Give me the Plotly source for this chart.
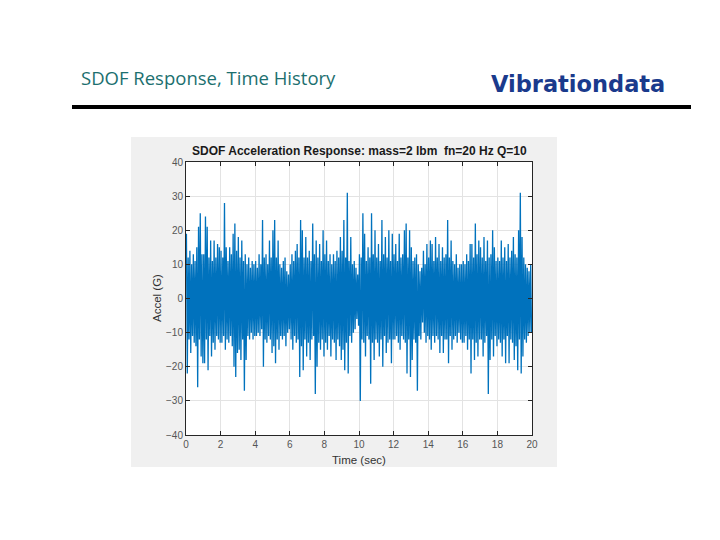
import numpy as np
import plotly.graph_objects as go

# ---------------- data ----------------
# per 0.1 s bin: positive peak and negative peak of the acceleration (G)
upper_peaks = [
    19, 12, 14, 10, 13, 11, 15, 21, 25, 13,
    13, 24, 21, 12, 17, 11, 17, 12, 16, 15,
    14, 12, 28, 15, 11, 15, 13, 19, 22, 14,
    18, 12, 17, 11, 13, 10, 12, 9, 11, 10,
    11, 9, 13, 10, 23, 12, 13, 10, 17, 12,
    20, 23, 12, 17, 10, 9, 11, 12, 8, 7,
    10, 13, 11, 14, 16, 12, 23, 20, 12, 18,
    12, 14, 11, 22, 13, 17, 12, 16, 11, 20,
    13, 17, 11, 13, 10, 13, 11, 14, 12, 18,
    14, 23, 12, 31, 11, 18, 10, 11, 9, 7,
    13, 12, 25, 19, 11, 15, 12, 25, 13, 20,
    12, 16, 11, 23, 13, 18, 12, 20, 11, 19,
    13, 16, 11, 19, 12, 13, 20, 22, 12, 20,
    15, 11, 12, 13, 10, 8, 9, 14, 10, 16,
    12, 17, 16, 11, 18, 12, 16, 11, 15, 12,
    13, 23, 12, 17, 11, 10, 13, 9, 10, 10,
    11, 10, 13, 11, 16, 16, 12, 22, 13, 17,
    15, 12, 18, 11, 17, 12, 13, 20, 15, 11,
    12, 11, 17, 12, 15, 11, 16, 12, 14, 18,
    13, 12, 20, 31, 18, 12, 10, 9, 8, 10,
]
lower_peaks = [
    -22, -12, -16, -11, -13, -14, -26, -12, -17, -19,
    -19, -12, -21, -11, -17, -13, -15, -11, -12, -13,
    -13, -11, -15, -12, -13, -11, -14, -20, -23, -16,
    -15, -18, -12, -27, -18, -11, -12, -10, -12, -11,
    -11, -10, -11, -9, -20, -12, -13, -11, -12, -16,
    -14, -19, -12, -15, -11, -12, -11, -14, -10, -9,
    -12, -15, -11, -13, -12, -23, -14, -21, -12, -17,
    -13, -18, -12, -11, -28, -20, -13, -15, -12, -17,
    -13, -15, -11, -17, -12, -13, -18, -12, -14, -18,
    -15, -21, -13, -22, -11, -13, -10, -9, -6, -8,
    -30, -12, -13, -17, -11, -12, -25, -13, -18, -12,
    -13, -17, -12, -20, -11, -16, -13, -12, -19, -12,
    -12, -11, -13, -15, -11, -12, -13, -22, -12, -23,
    -18, -12, -13, -27, -11, -12, -7, -10, -13, -11,
    -12, -15, -11, -13, -11, -12, -16, -11, -16, -12,
    -12, -19, -11, -15, -12, -11, -13, -10, -12, -13,
    -13, -11, -15, -12, -22, -12, -18, -13, -17, -12,
    -12, -17, -13, -11, -28, -18, -12, -17, -11, -14,
    -12, -13, -17, -12, -19, -11, -19, -12, -13, -18,
    -14, -21, -12, -22, -17, -12, -13, -11, -10, -10,
]
bin_width = 0.1  # seconds per bin

x_ticks = [0, 2, 4, 6, 8, 10, 12, 14, 16, 18, 20]
y_ticks = [-40, -30, -20, -10, 0, 10, 20, 30, 40]

# interleave positive / negative peaks into one time history
n = len(upper_peaks)
t_up = np.arange(n) * bin_width + 0.25 * bin_width
t_lo = np.arange(n) * bin_width + 0.75 * bin_width
time = np.empty(2 * n)
accel = np.empty(2 * n)
time[0::2] = t_up
time[1::2] = t_lo
accel[0::2] = upper_peaks
accel[1::2] = lower_peaks

# ---------------- layout helpers ----------------
W, H = 720, 540
OFF = 8  # page body margin
PL, PR, PT, PB = 186, 532, 162, 435  # plot area in screen pixels


def px(x):
    return (x - PL) / (PR - PL)


def py(y):
    return (PB - y) / (PB - PT)


fig = go.Figure()
fig.add_trace(go.Scatter(
    x=time, y=accel, mode="lines",
    line=dict(color="#0072BD", width=1.3),
    hoverinfo="skip", showlegend=False,
))

shapes = [
    # grey figure panel
    dict(type="rect", xref="paper", yref="paper",
         x0=px(131), x1=px(557), y0=py(467), y1=py(137),
         fillcolor="#f0f0f0", line=dict(width=0), layer="below"),
    dict(type="rect", xref="paper", yref="paper",
         x0=0, x1=1, y0=0, y1=1,
         fillcolor="white", line=dict(width=0), layer="below"),
    # thick header rule
    dict(type="line", xref="paper", yref="paper",
         x0=px(72), x1=px(691), y0=py(107), y1=py(107),
         line=dict(color="black", width=4), layer="above"),
]

annotations = [
    dict(text="SDOF Response, Time History", xref="paper", yref="paper",
         x=px(79), y=py(77), xanchor="left", yanchor="middle", showarrow=False,
         font=dict(family="Open Sans", size=18.5, color="#1c6f6f")),
    dict(text="<b>Vibrationdata</b>", xref="paper", yref="paper",
         x=px(489), y=py(84), xanchor="left", yanchor="middle", showarrow=False,
         font=dict(family="DejaVu Sans", size=22.5, color="#1a3a8c")),
    dict(text="<b>SDOF Acceleration Response: mass=2 lbm  fn=20 Hz Q=10</b>",
         xref="paper", yref="paper",
         x=px(359), y=py(151), xanchor="center", yanchor="middle", showarrow=False,
         font=dict(family="Liberation Sans", size=12, color="#1a1a1a")),
    dict(text="Time (sec)", xref="paper", yref="paper",
         x=px(359), y=py(460), xanchor="center", yanchor="middle", showarrow=False,
         font=dict(family="Liberation Sans", size=11.5, color="#333333")),
    dict(text="Accel (G)", xref="paper", yref="paper", textangle=-90,
         x=px(157), y=py(298), xanchor="center", yanchor="middle", showarrow=False,
         font=dict(family="Liberation Sans", size=11.5, color="#333333")),
]

axis_common = dict(
    showline=True, linecolor="#262626", linewidth=1, mirror="allticks",
    ticks="inside", ticklen=4, tickcolor="#262626",
    showgrid=True, gridcolor="#e3e3e3", gridwidth=1, zeroline=False,
    tickfont=dict(family="Liberation Sans", size=10, color="#555555"),
)

fig.update_layout(
    width=W, height=H, autosize=False,
    margin=dict(l=PL - OFF, r=W + OFF - PR, t=PT - OFF, b=H + OFF - PB, pad=0),
    paper_bgcolor="white", plot_bgcolor="white",
    shapes=shapes, annotations=annotations,
    xaxis=dict(range=[0, 20], tickvals=x_ticks, **axis_common),
    yaxis=dict(range=[-40, 40], tickvals=y_ticks, **axis_common),
)

fig.write_html("out.html")
